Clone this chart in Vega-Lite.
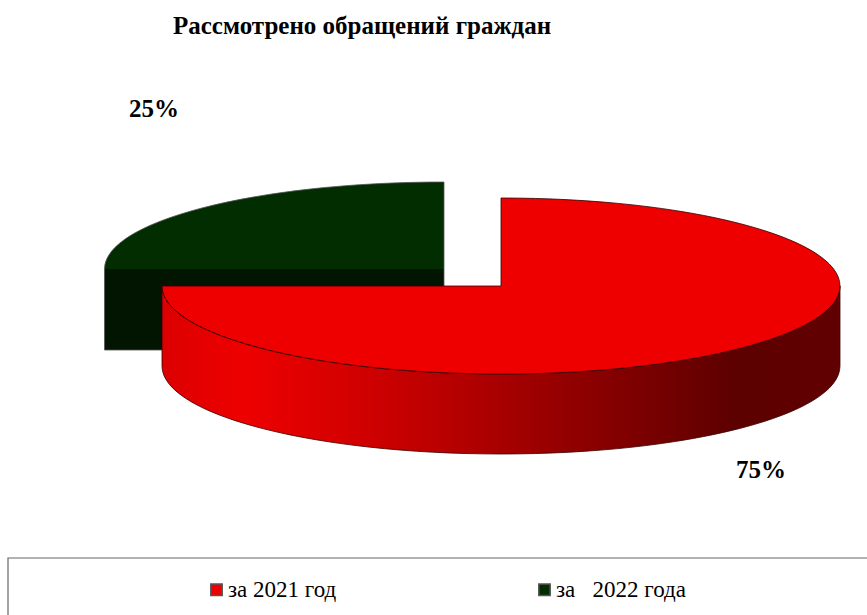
{
"$schema":"https://vega.github.io/schema/vega-lite/v6.json",
"width":867,"height":615,"padding":0,"autosize":"none","background":"white",
"title":{"text":"Рассмотрено обращений граждан","font":"Liberation Serif","fontSize":25,"fontWeight":"bold","color":"#000000","anchor":"start","frame":"bounds","orient":"top","offset":0,"dx":173,"dy":39},
"datasets":{"slices":[{"period":"за 2021 год","share":0.75},{"period":"за\u00a0\u00a0\u00a02022 года","share":0.25}]},
"data":{"name":"slices"},
"resolve":{"scale":{"x":"independent","y":"independent"}},
"config":{"view":{"stroke":null}},
"layer":[
{"data":{"values":[{"edge":0}]},
 "mark":{"type":"rect","fill":"white","stroke":"#666666","strokeWidth":1.2},
 "encoding":{
  "x":{"datum":0,"type":"quantitative","scale":{"domain":[0,1],"range":[8,880]},"axis":null},
  "x2":{"datum":1},
  "y":{"datum":0,"type":"quantitative","scale":{"domain":[0,1],"range":[558,640]},"axis":null},
  "y2":{"datum":1}}},
{"transform":[{"filter":"datum.share===0.25"}],
 "mark":{"type":"point","filled":true,"opacity":1,"size":4,"fill":"#011500","stroke":"#555555","strokeWidth":0.8,"shape":"M-339.5,0 V81 H0 V0"},
 "encoding":{
  "x":{"field":"period","type":"nominal","sort":null,"scale":{"domain":["за 2021 год","за\u00a0\u00a0\u00a02022 года"],"range":[501,444],"padding":0},"axis":null},
  "y":{"field":"period","type":"nominal","sort":null,"scale":{"domain":["за 2021 год","за\u00a0\u00a0\u00a02022 года"],"range":[286,269],"padding":0},"axis":null}}},
{"transform":[{"filter":"datum.share===0.25"}],
 "mark":{"type":"point","filled":true,"opacity":1,"size":4,"stroke":"#555555","strokeWidth":0.8,"shape":"M-339.5,0 A339.5,87 0 0 1 0,-87 V0"},
 "encoding":{
  "x":{"field":"period","type":"nominal","sort":null,"scale":{"domain":["за 2021 год","за\u00a0\u00a0\u00a02022 года"],"range":[501,444],"padding":0},"axis":null},
  "y":{"field":"period","type":"nominal","sort":null,"scale":{"domain":["за 2021 год","за\u00a0\u00a0\u00a02022 года"],"range":[286,269],"padding":0},"axis":null},
  "color":{"field":"period","type":"nominal","sort":null,"scale":{"domain":["за 2021 год","за\u00a0\u00a0\u00a02022 года"],"range":["#ee0000","#012d00"]},
   "legend":{"orient":"none","legendX":205,"legendY":578,"direction":"horizontal","columns":2,"title":null,"symbolType":"square","symbolSize":130,"labelFont":"Liberation Serif","labelFontSize":23,"labelColor":"#000000","labelOffset":0,"columnPadding":196,"labelLimit":300,"symbolOpacity":1,
    "encode":{"symbols":{"update":{"fill":{"signal":"datum.value==='за 2021 год'?'#ff0000':'#003300'"},"stroke":{"value":"#000000"},"strokeWidth":{"value":1.2}}}}}}}},
{"transform":[{"filter":"datum.share===0.75"}],
 "mark":{"type":"point","filled":true,"opacity":1,"size":4,"stroke":"#3a0000","strokeWidth":0.8,
  "fill":{"gradient":"linear","x1":0,"x2":1,"y1":0,"y2":0,"stops":[{"offset":0,"color":"#dc0000"},{"offset":0.12,"color":"#ee0000"},{"offset":0.3,"color":"#d00000"},{"offset":0.5,"color":"#a80000"},{"offset":0.85,"color":"#5c0000"},{"offset":1,"color":"#620000"}]},
  "shape":"M-339,0 V80 A339,88 0 0 0 339,80 V0 A339,88 0 0 1 -339,0 Z"},
 "encoding":{
  "x":{"field":"period","type":"nominal","sort":null,"scale":{"domain":["за 2021 год","за\u00a0\u00a0\u00a02022 года"],"range":[501,444],"padding":0},"axis":null},
  "y":{"field":"period","type":"nominal","sort":null,"scale":{"domain":["за 2021 год","за\u00a0\u00a0\u00a02022 года"],"range":[286,269],"padding":0},"axis":null}}},
{"transform":[{"filter":"datum.share===0.75"}],
 "mark":{"type":"point","filled":true,"opacity":1,"size":4,"stroke":"#300000","strokeWidth":0.8,"shape":"M0,0 V-88 A339,88 0 1 1 -339,0 Z"},
 "encoding":{
  "x":{"field":"period","type":"nominal","sort":null,"scale":{"domain":["за 2021 год","за\u00a0\u00a0\u00a02022 года"],"range":[501,444],"padding":0},"axis":null},
  "y":{"field":"period","type":"nominal","sort":null,"scale":{"domain":["за 2021 год","за\u00a0\u00a0\u00a02022 года"],"range":[286,269],"padding":0},"axis":null},
  "color":{"field":"period","type":"nominal","sort":null,"scale":{"domain":["за 2021 год","за\u00a0\u00a0\u00a02022 года"],"range":["#ee0000","#012d00"]},"legend":null}}},
{"mark":{"type":"text","font":"Liberation Serif","fontSize":25,"fontWeight":"bold","color":"#000000","align":"center","baseline":"middle"},
 "encoding":{
  "x":{"field":"period","type":"nominal","sort":null,"scale":{"domain":["за 2021 год","за\u00a0\u00a0\u00a02022 года"],"range":[761,154],"padding":0},"axis":null},
  "y":{"field":"period","type":"nominal","sort":null,"scale":{"domain":["за 2021 год","за\u00a0\u00a0\u00a02022 года"],"range":[470,109],"padding":0},"axis":null},
  "text":{"field":"share","type":"quantitative","format":".0%"}}}
]}
